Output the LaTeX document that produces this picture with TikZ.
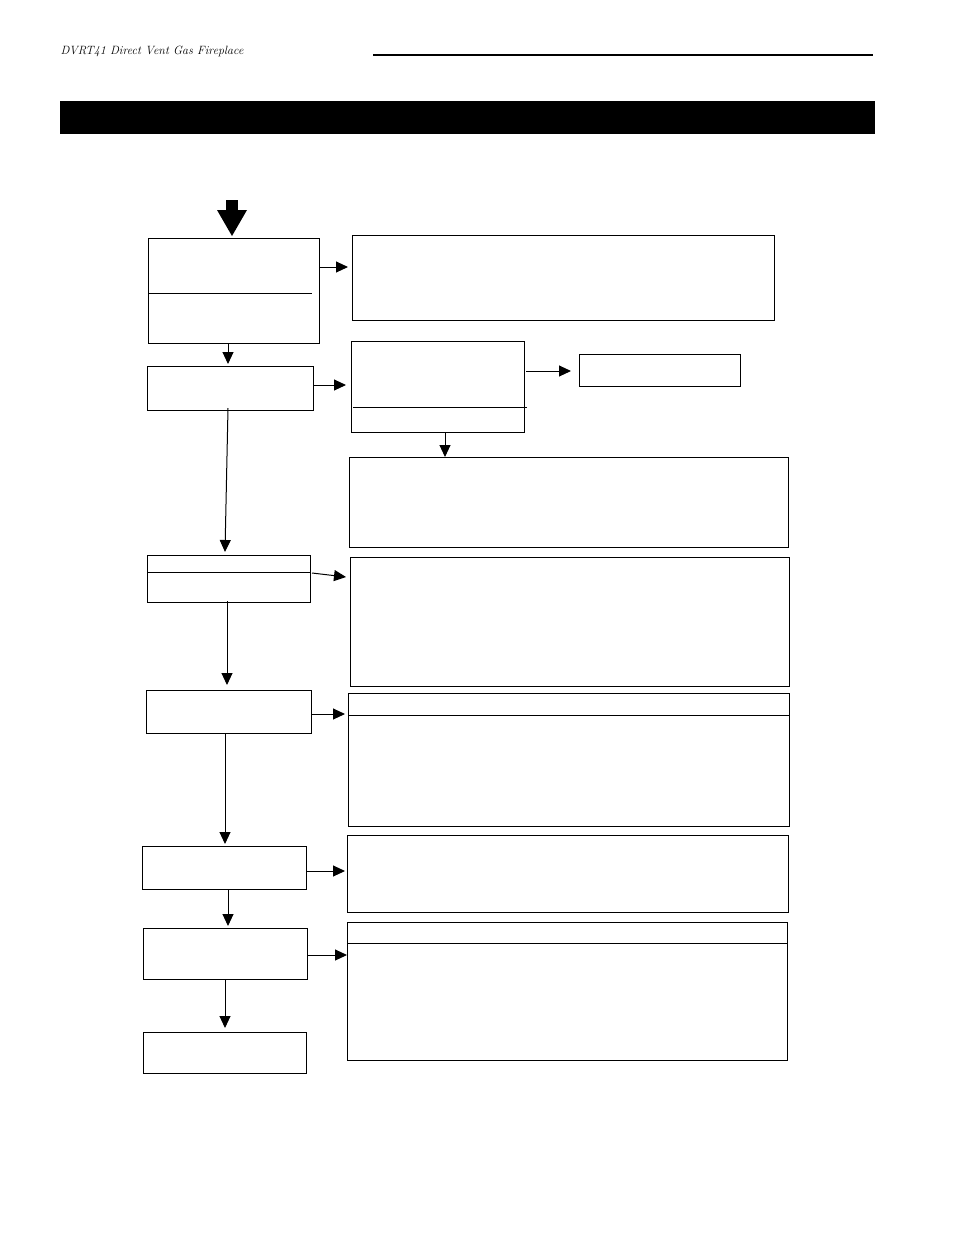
\documentclass[tikz,border=0pt]{standalone}
\usetikzlibrary{arrows.meta}
\begin{document}
\begin{tikzpicture}[x=1pt,y=-1pt,
 box/.style={draw,line width=1.3pt,inner sep=0pt,anchor=north west},
 arr/.style={line width=1pt,-{Triangle[length=12pt,width=11pt]}}]
\useasboundingbox (0,0) rectangle (954,1235);
\node[anchor=base west,font=\itshape\large] (hdr) at (57,54) {DVRT41 Direct Vent Gas Fireplace};
\draw[line width=2.5pt] (373,55) -- (873,55);
\fill (60,101) rectangle (875,134);
\fill (226,200) rectangle (238,211);
\fill (217,210) -- (247,210) -- (232,236) -- cycle;
\newcommand{\bx}[5]{\node[box,minimum width=#4-#2,minimum height=#5-#3] (#1) at (#2,#3) {};}
\bx{A}{148}{238}{319}{343}
\bx{B}{352}{235}{774}{320}
\bx{C}{147}{366}{313}{410}
\bx{D}{351}{341}{524}{432}
\bx{E}{579}{354}{740}{386}
\bx{F}{349}{457}{788}{547}
\bx{G}{147}{555}{310}{602}
\bx{H}{350}{557}{789}{686}
\bx{I}{146}{690}{311}{733}
\bx{J}{348}{693}{789}{826}
\bx{K}{142}{846}{306}{889}
\bx{L}{347}{835}{788}{912}
\bx{M}{143}{928}{307}{979}
\bx{N}{347}{922}{787}{1060}
\bx{O}{143}{1032}{306}{1073}
\draw[line width=1pt] (148,293) -- (312,293);
\draw[line width=1pt] (353,407) -- (527,407);
\draw[line width=1pt] (147,572) -- (310,572);
\draw[line width=1pt] (348,715) -- (789,715);
\draw[line width=1pt] (347,943) -- (787,943);
\draw[arr] (319,267) -- (348,267);
\draw[arr] (A.south -| 228,0) -- (228,364);
\draw[arr] (313,385) -- (346,385);
\draw[arr] (526,371) -- (571,371);
\draw[arr] (445,432) -- (445,457);
\draw[arr] (228,408) -- (225,552);
\draw[arr] (312,573) -- (346,577);
\draw[arr] (227,601) -- (227,685);
\draw[arr] (311,714) -- (345,714);
\draw[arr] (225,733) -- (225,844);
\draw[arr] (306,871) -- (345,871);
\draw[arr] (228,889) -- (228,926);
\draw[arr] (308,955) -- (347,955);
\draw[arr] (225,979) -- (225,1028);
\end{tikzpicture}
\end{document}
